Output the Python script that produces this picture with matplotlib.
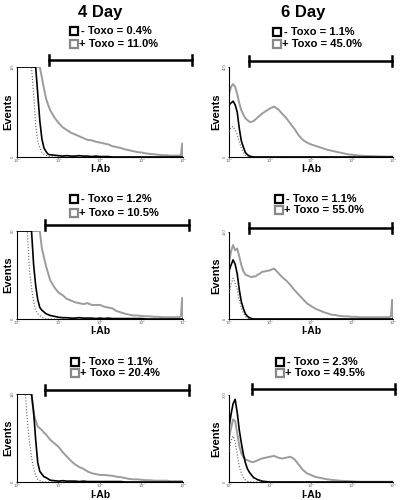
import numpy as np
import matplotlib
matplotlib.use("Agg")
import matplotlib.pyplot as plt

plt.rcParams['font.family'] = ['Liberation Sans', 'DejaVu Sans']

# log10 fluorescence grid shared by all histograms
grid = [0.0, 0.05, 0.1, 0.15, 0.2, 0.25, 0.3, 0.35, 0.4, 0.45, 0.5, 0.55, 0.6, 0.65,
        0.7, 0.75, 0.8, 0.9, 1.0, 1.1, 1.2, 1.3, 1.4, 1.5, 1.6, 1.7, 1.8, 1.9, 2.0,
        2.1, 2.2, 2.3, 2.4, 2.5, 2.6, 2.7, 2.8, 2.9, 3.0, 3.1, 3.2, 3.3, 3.4, 3.5,
        3.6, 3.7, 3.8, 3.9, 3.95, 3.98, 4.0]

# values in percent of each panel's axis maximum
# 4 Day, row 1
black_a = [100]*10 + [70, 40, 20, 10, 6, 3, 2.5, 2, 1.5, 1, 1.5, 1, 1, 1.5, 1, 1, 0.5, 1,
                      0.5, 0.5, 0.5] + [0]*20
gray_a = [100]*12 + [88, 76, 65, 58, 52, 44, 38, 33, 30, 27, 25, 23, 21, 19, 18.5, 17, 16,
                     15, 14, 12, 11, 10, 8.5, 7.5, 6.5, 5.5, 5, 4, 3.5, 3, 2.5, 2, 2, 1.5,
                     1.5, 1.5, 2, 15, 0]
dot_a = [100]*8 + [70, 35, 18, 10, 5, 3, 2, 1, 0.5] + [0]*34
# 6 Day, row 1
black_b = [58, 60, 62, 58, 50, 32, 18, 11, 5, 2.5, 1, 0.5] + [0]*39
gray_b = [70, 78, 81, 78, 70, 60, 52, 47, 43, 41, 39, 39, 40, 42, 44, 46, 48, 51, 54, 56,
          53, 48, 43, 37, 31, 24, 19, 16, 14, 12.5, 11, 9.5, 8, 7, 6, 5, 4, 3, 2.5, 2,
          1.5, 1.2, 1, 1, 0.8, 0.6, 0.5, 0.5, 0.5, 0.5, 0.5]
dot_b = [28, 33, 34, 30, 25, 17, 10, 5, 2, 1] + [0]*41
# 4 Day, row 2
black_c = [100]*8 + [62, 38, 22, 13, 10, 8, 6, 5, 4, 3, 2, 1.5, 1.5, 1, 1, 1.5, 1, 1, 1,
                     0.5, 1, 0.5, 1, 0.5, 0.5, 0.5, 0.5, 0.5, 0.5, 0.5, 0.5] + [0]*12
gray_c = [100]*12 + [80, 70, 60, 52, 44, 36, 30, 27, 23, 21, 19, 18, 17, 18, 16, 16, 16,
                     14, 13, 12, 9, 7.5, 6, 5, 4, 4, 3.5, 3, 3, 2.5, 2.5, 2, 2, 2, 2, 2,
                     3, 24, 0]
dot_c = [100]*6 + [55, 36, 20, 10, 6, 4, 2, 1] + [0]*37
# 6 Day, row 2
black_d = [55, 62, 68, 63, 52, 34, 20, 12, 6, 3, 1.5, 0.5] + [0]*39
gray_d = [65, 78, 85, 79, 81, 72, 62, 55, 51, 50, 49, 48, 49, 49, 51, 52, 54, 55, 56, 58,
          53, 48, 44, 39, 33, 28, 23, 18, 15, 12, 10, 8, 6.5, 5, 4.5, 3.5, 3, 3, 2.5,
          2.5, 2, 2, 2, 2, 2, 2, 2, 2, 3, 22, 0]
dot_d = [30, 40, 47, 41, 34, 22, 13, 7, 3, 1] + [0]*41
# 4 Day, row 3
black_e = [100]*8 + [80, 48, 22, 12, 9, 6, 5, 3.5, 2, 1.5, 1, 1.5, 1, 1, 1, 0.5, 1, 0.5,
                     0.5, 0.5, 0.5, 0.5, 0.5, 0.5, 0.5, 0.5] + [0]*17
gray_e = [100]*8 + [78, 70, 63, 61, 59, 56, 54, 51, 48, 44, 40, 34, 29, 24, 20, 17, 15,
                    12, 10, 9, 8, 8, 7.5, 7, 6, 5.5, 4.5, 3.5, 3, 3, 2.5, 2, 2, 1.5, 1.5,
                    1.5, 1.5, 1, 1, 1, 1, 1, 0.5]
dot_e = [100]*5 + [70, 45, 28, 16, 7, 3, 1.5, 0.5] + [0]*38
# 6 Day, row 3
black_f = [62, 78, 90, 95, 80, 60, 45, 32, 22, 15, 11, 8, 5, 4, 2.5, 2, 1, 0.5] + [0]*33
gray_f = [50, 62, 72, 70, 56, 42, 33, 29, 26, 25, 24, 23, 23, 24, 25, 26, 27, 28, 29, 30,
          28, 27, 28, 29, 26, 20, 14, 10, 8, 6, 5, 4, 3, 2.5, 2, 1.5, 1.2, 1, 0.8, 0.5,
          0.3, 0.3, 0.3, 0.3, 0.3, 0.3, 0.3, 0.3, 0.3, 0.3, 0.3]
dot_f = [35, 48, 53, 46, 32, 18, 10, 5, 2.5, 1, 0.5] + [0]*40

y_max = ['125', '400', '50', '150', '115', '200']
x_ticklabels = ['10⁰', '10¹', '10²', '10³', '10⁴']
minus_pct = ['0.4%', '1.1%', '1.2%', '1.1%', '1.1%', '2.3%']
plus_pct = ['11.0%', '45.0%', '10.5%', '55.0%', '20.4%', '49.5%']
days = ['4 Day', '6 Day']

W, H = 400, 500
fig = plt.figure(figsize=(4, 5), dpi=100)

def fx(x):
    return x / W

def fy(y):
    return 1 - y / H

# pixel boxes: (left, top, right, bottom)
boxes = [(17, 67, 183, 157), (229, 67, 393, 157),
         (17, 231, 183, 319), (229, 232, 393, 319),
         (17, 394, 183, 482), (229, 395, 393, 482)]
brackets = [(49, 192, 60), (249, 392, 61),
            (45, 189, 225), (249, 392, 228),
            (45, 189, 390), (252, 395, 389)]
legend_pos = [(74, 31, 44), (277, 32, 44),
              (74, 199, 213), (279, 199, 210),
              (75, 362, 373), (280, 362, 373)]
ylabel_x = [8, 216, 8, 216, 8, 216]

curves = [(black_a, gray_a, dot_a), (black_b, gray_b, dot_b),
          (black_c, gray_c, dot_c), (black_d, gray_d, dot_d),
          (black_e, gray_e, dot_e), (black_f, gray_f, dot_f)]

x = 10 ** np.array(grid)

for i, (l, t, r, b) in enumerate(boxes):
    ax = fig.add_axes([fx(l), fy(b), fx(r - l), (b - t) / H])
    blk, gry, dot = curves[i]
    ax.plot(x, gry, color='#9c9c9c', lw=1.4, zorder=2)
    ax.plot(x, dot, color='#666666', lw=0.8, ls=':', zorder=3)
    ax.plot(x, blk, color='black', lw=1.2, zorder=4)
    ax.set_xscale('log')
    ax.set_xlim(1, 1e4)
    ax.set_ylim(0, 100)
    ax.set_xticks([1, 10, 100, 1000, 10000])
    ax.set_xticklabels(x_ticklabels, fontsize=3, color='#666666',
                       family=['DejaVu Sans'])
    ax.minorticks_off()
    ax.set_yticks([0, 100])
    ax.set_yticklabels(['0', y_max[i]], fontsize=3, color='#666666', rotation=90,
                       va='center')
    ax.tick_params(length=1, width=0.5, pad=0.3)
    for s in ['top', 'right']:
        ax.spines[s].set_visible(False)
    for s in ['left', 'bottom']:
        ax.spines[s].set_linewidth(0.8)

    # axis labels placed by pixel position
    fig.text(fx((l + r) / 2), fy(b + 7.5), 'I-Ab', fontsize=7.5, fontweight='bold',
             ha='center', va='top')
    fig.text(fx(ylabel_x[i]), fy((t + b) / 2), 'Events', fontsize=8, fontweight='bold',
             ha='center', va='center', rotation=90)

    # gate bracket
    x0, x1, yb = brackets[i]
    fig.add_artist(plt.Line2D([fx(x0), fx(x1)], [fy(yb), fy(yb)], color='black', lw=1.8))
    for xe in (x0, x1):
        fig.add_artist(plt.Line2D([fx(xe), fx(xe)], [fy(yb - 5), fy(yb + 5)],
                                  color='black', lw=1.8))

    # legend
    sx, y1, y2 = legend_pos[i]
    fig.add_artist(plt.Line2D([fx(sx)], [fy(y1)], marker='s', markersize=5.5,
                              markerfacecolor='white', markeredgecolor='black',
                              markeredgewidth=1.6, ls='none'))
    fig.add_artist(plt.Line2D([fx(sx)], [fy(y2)], marker='s', markersize=5.5,
                              markerfacecolor='white', markeredgecolor='#888888',
                              markeredgewidth=1.6, ls='none'))
    fig.text(fx(sx + 7), fy(y1), '- Toxo = ' + minus_pct[i], fontsize=8,
             fontweight='bold', va='center', ha='left')
    fig.text(fx(sx + 5), fy(y2), '+ Toxo = ' + plus_pct[i], fontsize=8,
             fontweight='bold', va='center', ha='left')

fig.text(fx(100), fy(13), days[0], fontsize=12, fontweight='bold', ha='center', va='center')
fig.text(fx(303), fy(13), days[1], fontsize=12, fontweight='bold', ha='center', va='center')

fig.savefig('out.png', dpi=100)
